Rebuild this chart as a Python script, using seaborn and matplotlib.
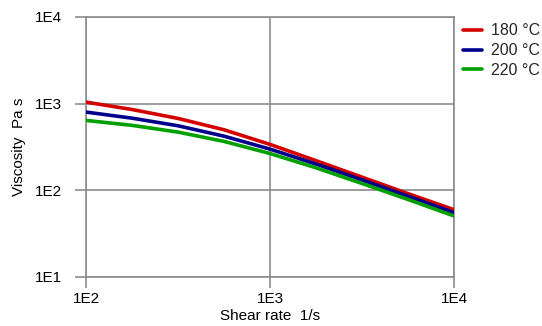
import matplotlib
matplotlib.use("Agg")
import matplotlib.pyplot as plt
import matplotlib.ticker as mticker
import numpy as np
import pandas as pd
import seaborn as sns

# Shear rate (1/s) and viscosity (Pa s) for each melt temperature
shear_rate = [100, 178, 316, 562, 1000, 1778, 3162, 5623, 10000]
visc_180 = [1042, 856, 676, 500, 339, 220, 142, 91.6, 59.8]
visc_200 = [800, 680, 556, 422, 299, 201, 132, 85.5, 55.3]
visc_220 = [641, 562, 470, 367, 266, 182, 120, 78.5, 50.6]
series_labels = ["180 °C", "200 °C", "220 °C"]
x_ticks = [1e2, 1e3, 1e4]
x_tick_labels = ["1E2", "1E3", "1E4"]
y_ticks = [1e1, 1e2, 1e3, 1e4]
y_tick_labels = ["1E1", "1E2", "1E3", "1E4"]

frames = []
for label, vals in zip(series_labels, [visc_180, visc_200, visc_220]):
    frames.append(pd.DataFrame({"rate": shear_rate, "visc": vals, "T": label}))
df = pd.concat(frames, ignore_index=True)

sns.set_theme(style="white")
plt.rcParams["font.family"] = ["Liberation Sans", "DejaVu Sans"]

grid_col = "#8c8c8c"
palette = {"180 °C": "#d40000", "200 °C": "#00008c", "220 °C": "#00a000"}

fig = plt.figure(figsize=(5.42, 3.26), dpi=100)
ax = fig.add_axes([86 / 542, 1 - 277 / 326, (454 - 86) / 542, (277 - 17) / 326])

sns.lineplot(data=df, x="rate", y="visc", hue="T", palette=palette,
             linewidth=2.6, ax=ax, legend=False, zorder=3)
for ln in ax.get_lines():
    ln.set_solid_joinstyle("round")

ax.set_xscale("log")
ax.set_yscale("log")
ax.set_xlim(1e2, 1e4)
ax.set_ylim(1e1, 1e4)

ax.xaxis.set_major_locator(mticker.FixedLocator(x_ticks))
ax.yaxis.set_major_locator(mticker.FixedLocator(y_ticks))
ax.xaxis.set_minor_locator(mticker.NullLocator())
ax.yaxis.set_minor_locator(mticker.NullLocator())
ax.set_xticklabels(x_tick_labels)
ax.set_yticklabels(y_tick_labels)

ax.grid(True, color=grid_col, linewidth=1.2, zorder=1)
for side in ["left", "bottom", "top", "right"]:
    ax.spines[side].set_visible(True)
    ax.spines[side].set_color(grid_col)
    ax.spines[side].set_linewidth(1.2)

ax.tick_params(axis="both", which="major", direction="out", length=8,
               width=1.2, color=grid_col, labelsize=11, labelcolor="black",
               bottom=True, left=True)
ax.tick_params(axis="y", pad=9)
ax.tick_params(axis="x", pad=3)

ax.set_xlabel("Shear rate  1/s", fontsize=11, color="black", labelpad=2)
ax.set_ylabel("Viscosity  Pa s", fontsize=11, color="black", labelpad=7)

handles = [plt.Line2D([0], [0], color=palette[l], linewidth=2.6) for l in series_labels]
ax.legend(handles, series_labels, loc="upper left", bbox_to_anchor=(1.008, 1.0),
          frameon=False, fontsize=11.5, handlelength=1.2, handletextpad=0.55,
          labelspacing=0.3, borderaxespad=0)

fig.savefig("out.png", dpi=100)
